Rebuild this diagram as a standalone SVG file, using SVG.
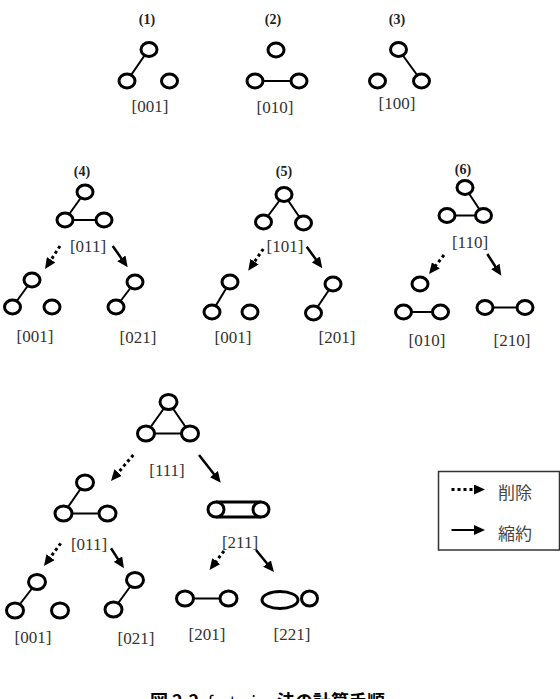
<svg xmlns="http://www.w3.org/2000/svg" width="560" height="699" viewBox="0 0 560 699">
<defs>
<marker id="ah" markerUnits="userSpaceOnUse" markerWidth="11" markerHeight="10" refX="3" refY="5" orient="auto"><path d="M0,0 L11,5 L0,10 z" fill="#000"/></marker>
<style>
.n{fill:#fff;stroke:#000;stroke-width:3}
.e{stroke:#000;stroke-width:2;fill:none}
.lbl{font-family:"Liberation Serif",serif;font-size:17px;fill:#333;text-anchor:middle}
.num{font-family:"Liberation Serif",serif;font-size:14px;font-weight:bold;fill:#222;text-anchor:middle}
.sa{stroke:#000;stroke-width:2.5;fill:none;marker-end:url(#ah)}
.da{stroke:#000;stroke-width:3;stroke-dasharray:3 3;fill:none;marker-end:url(#ah)}
.jp{font-family:"Noto Sans CJK JP",sans-serif;font-size:17px;fill:#444}
</style>
</defs>
<rect width="560" height="699" fill="#fff"/>

<!-- Row 1 -->
<g id="g1">
<text class="num" x="147" y="24">(1)</text>
<line class="e" x1="149" y1="49" x2="127" y2="81"/>
<ellipse class="n" cx="149" cy="49.5" rx="8" ry="7"/>
<ellipse class="n" cx="127" cy="81" rx="8" ry="7"/>
<ellipse class="n" cx="169.5" cy="81" rx="8" ry="7"/>
<text class="lbl" x="150" y="112">[001]</text>
</g>
<g id="g2">
<text class="num" x="273" y="24">(2)</text>
<line class="e" x1="255" y1="81" x2="299" y2="81"/>
<ellipse class="n" cx="276" cy="50" rx="8" ry="7"/>
<ellipse class="n" cx="255" cy="81" rx="8" ry="7"/>
<ellipse class="n" cx="299" cy="81" rx="8" ry="7"/>
<text class="lbl" x="275" y="112.5">[010]</text>
</g>
<g id="g3">
<text class="num" x="397" y="24">(3)</text>
<line class="e" x1="398.5" y1="49.5" x2="421.5" y2="81"/>
<ellipse class="n" cx="398.5" cy="49.5" rx="8" ry="7"/>
<ellipse class="n" cx="377.5" cy="81" rx="8" ry="7"/>
<ellipse class="n" cx="421.5" cy="81" rx="8" ry="7"/>
<text class="lbl" x="397" y="108.5">[100]</text>
</g>

<!-- Row 2 -->
<g id="g4">
<text class="num" x="82" y="176">(4)</text>
<line class="e" x1="85" y1="192" x2="65" y2="220"/>
<line class="e" x1="65" y1="220" x2="104" y2="220"/>
<ellipse class="n" cx="85" cy="192" rx="8" ry="7"/>
<ellipse class="n" cx="65" cy="220" rx="8" ry="7"/>
<ellipse class="n" cx="104" cy="220" rx="8" ry="7"/>
<text class="lbl" x="88" y="252">[011]</text>
</g>
<g id="g4a">
<line class="e" x1="32" y1="280" x2="12.5" y2="307"/>
<ellipse class="n" cx="32" cy="280" rx="8" ry="7"/>
<ellipse class="n" cx="12.5" cy="307" rx="8" ry="7"/>
<ellipse class="n" cx="52" cy="307" rx="8" ry="7"/>
<text class="lbl" x="35" y="342">[001]</text>
</g>
<g id="g4b">
<line class="e" x1="135" y1="282" x2="116" y2="307"/>
<ellipse class="n" cx="135" cy="282" rx="8" ry="7"/>
<ellipse class="n" cx="116" cy="307" rx="8" ry="7"/>
<text class="lbl" x="138" y="343">[021]</text>
</g>

<g id="g5">
<text class="num" x="284" y="176">(5)</text>
<line class="e" x1="284" y1="194.5" x2="263.5" y2="222"/>
<line class="e" x1="284" y1="194.5" x2="303.5" y2="223"/>
<ellipse class="n" cx="284" cy="194.5" rx="8" ry="7"/>
<ellipse class="n" cx="263.5" cy="222" rx="8" ry="7"/>
<ellipse class="n" cx="303.5" cy="223" rx="8" ry="7"/>
<text class="lbl" x="285" y="252">[101]</text>
</g>
<g id="g5a">
<line class="e" x1="230" y1="282" x2="212" y2="312"/>
<ellipse class="n" cx="230" cy="282" rx="8" ry="7"/>
<ellipse class="n" cx="212" cy="312" rx="8" ry="7"/>
<ellipse class="n" cx="250" cy="312" rx="8" ry="7"/>
<text class="lbl" x="233" y="343">[001]</text>
</g>
<g id="g5b">
<line class="e" x1="333" y1="284" x2="313.5" y2="313"/>
<ellipse class="n" cx="333" cy="284" rx="8" ry="7"/>
<ellipse class="n" cx="313.5" cy="313" rx="8" ry="7"/>
<text class="lbl" x="337" y="343">[201]</text>
</g>

<g id="g6">
<text class="num" x="463" y="174">(6)</text>
<line class="e" x1="465" y1="187.5" x2="483.5" y2="215.5"/>
<line class="e" x1="447" y1="215.5" x2="483.5" y2="215.5"/>
<ellipse class="n" cx="465" cy="187.5" rx="8" ry="7"/>
<ellipse class="n" cx="447" cy="215.5" rx="8" ry="7"/>
<ellipse class="n" cx="483.5" cy="215.5" rx="8" ry="7"/>
<text class="lbl" x="470" y="248">[110]</text>
</g>
<g id="g6a">
<line class="e" x1="403.5" y1="312" x2="440.5" y2="312"/>
<ellipse class="n" cx="420" cy="284" rx="8" ry="7"/>
<ellipse class="n" cx="403.5" cy="312" rx="8" ry="7"/>
<ellipse class="n" cx="440.5" cy="312" rx="8" ry="7"/>
<text class="lbl" x="427" y="346">[010]</text>
</g>
<g id="g6b">
<line class="e" x1="485" y1="307.5" x2="525" y2="307.5"/>
<ellipse class="n" cx="485" cy="307.5" rx="8" ry="7"/>
<ellipse class="n" cx="525" cy="307.5" rx="8" ry="7"/>
<text class="lbl" x="512" y="346">[210]</text>
</g>

<!-- Row 3 -->
<g id="g111">
<path class="e" d="M168.5,402 L146,433.5 L190,433.5 Z"/>
<ellipse class="n" cx="168.5" cy="402" rx="8.5" ry="7.5"/>
<ellipse class="n" cx="146" cy="433.5" rx="8.5" ry="7.5"/>
<ellipse class="n" cx="190" cy="433.5" rx="8.5" ry="7.5"/>
<text class="lbl" x="167" y="476">[111]</text>
</g>
<g id="g011">
<line class="e" x1="85" y1="482.5" x2="63.5" y2="513.5"/>
<line class="e" x1="63.5" y1="513.5" x2="107.5" y2="513.5"/>
<ellipse class="n" cx="85" cy="482.5" rx="8.5" ry="7.5"/>
<ellipse class="n" cx="63.5" cy="513.5" rx="8.5" ry="7.5"/>
<ellipse class="n" cx="107.5" cy="513.5" rx="8.5" ry="7.5"/>
<text class="lbl" x="89" y="550">[011]</text>
</g>
<g id="g211">
<line class="e" x1="216" y1="502" x2="261" y2="502" style="stroke-width:3"/>
<line class="e" x1="216" y1="517" x2="261" y2="517" style="stroke-width:3"/>
<ellipse class="n" cx="216" cy="509.5" rx="8" ry="7.5"/>
<ellipse class="n" cx="261" cy="509.5" rx="8" ry="7.5"/>
<text class="lbl" x="240" y="548">[211]</text>
</g>
<g id="g001b">
<line class="e" x1="37" y1="582" x2="15" y2="610.5"/>
<ellipse class="n" cx="37" cy="582" rx="8.5" ry="7.5"/>
<ellipse class="n" cx="15" cy="610.5" rx="8.5" ry="7.5"/>
<ellipse class="n" cx="60" cy="610.5" rx="8.5" ry="7.5"/>
<text class="lbl" x="33" y="643">[001]</text>
</g>
<g id="g021b">
<line class="e" x1="135" y1="580" x2="113.5" y2="609.5"/>
<ellipse class="n" cx="135" cy="580" rx="8.5" ry="7.5"/>
<ellipse class="n" cx="113.5" cy="609.5" rx="8.5" ry="7.5"/>
<text class="lbl" x="136" y="644">[021]</text>
</g>
<g id="g201b">
<line class="e" x1="185" y1="598.5" x2="228.5" y2="598.5"/>
<ellipse class="n" cx="185" cy="598.5" rx="8.5" ry="7.5"/>
<ellipse class="n" cx="228.5" cy="598.5" rx="8.5" ry="7.5"/>
<text class="lbl" x="207" y="640">[201]</text>
</g>
<g id="g221">
<ellipse class="n" cx="280" cy="600" rx="18" ry="8.5"/>
<ellipse class="n" cx="309.5" cy="598.5" rx="8" ry="7.5"/>
<text class="lbl" x="292" y="640">[221]</text>
</g>

<!-- Connectors -->
<g id="connectors">
<line class="da" x1="60" y1="246" x2="49.4" y2="262.3"/>
<line class="sa" x1="112.7" y1="246" x2="123.1" y2="260.8"/>
<line class="da" x1="263.3" y1="249" x2="252.8" y2="264.1"/>
<line class="sa" x1="306.7" y1="246.7" x2="317.6" y2="261.8"/>
<line class="da" x1="444" y1="255" x2="434" y2="267.7"/>
<line class="sa" x1="487.3" y1="254" x2="497" y2="269"/>
<line class="da" x1="133.3" y1="455" x2="116.2" y2="474.9"/>
<line class="sa" x1="199" y1="455" x2="215.8" y2="476.4"/>
<line class="da" x1="60.7" y1="543.3" x2="48.7" y2="559.6"/>
<line class="sa" x1="111" y1="548.3" x2="119.6" y2="561.6"/>
<line class="da" x1="224" y1="551" x2="214.4" y2="563.6"/>
<line class="sa" x1="256" y1="550" x2="268.9" y2="565.8"/>
</g>

<!-- Legend -->
<g id="legend">
<rect x="438.5" y="471.5" width="121" height="78.5" fill="none" stroke="#333" stroke-width="1.5"/>
<line class="da" x1="451.5" y1="489.5" x2="477" y2="489.5"/>
<text class="jp" x="498" y="499">削除</text>
<line class="sa" x1="451.5" y1="530" x2="477" y2="530" style="stroke-width:2"/>
<text class="jp" x="498" y="540">縮約</text>
</g>

<!-- Caption -->
<text x="150" y="708" font-family="'Noto Sans CJK JP',sans-serif" font-size="18" fill="#000"><tspan font-weight="bold">図</tspan><tspan x="172" font-weight="bold">2.2</tspan><tspan x="208" font-size="16">factoring</tspan><tspan x="277" font-weight="bold">法の計算手順</tspan></text>
</svg>
